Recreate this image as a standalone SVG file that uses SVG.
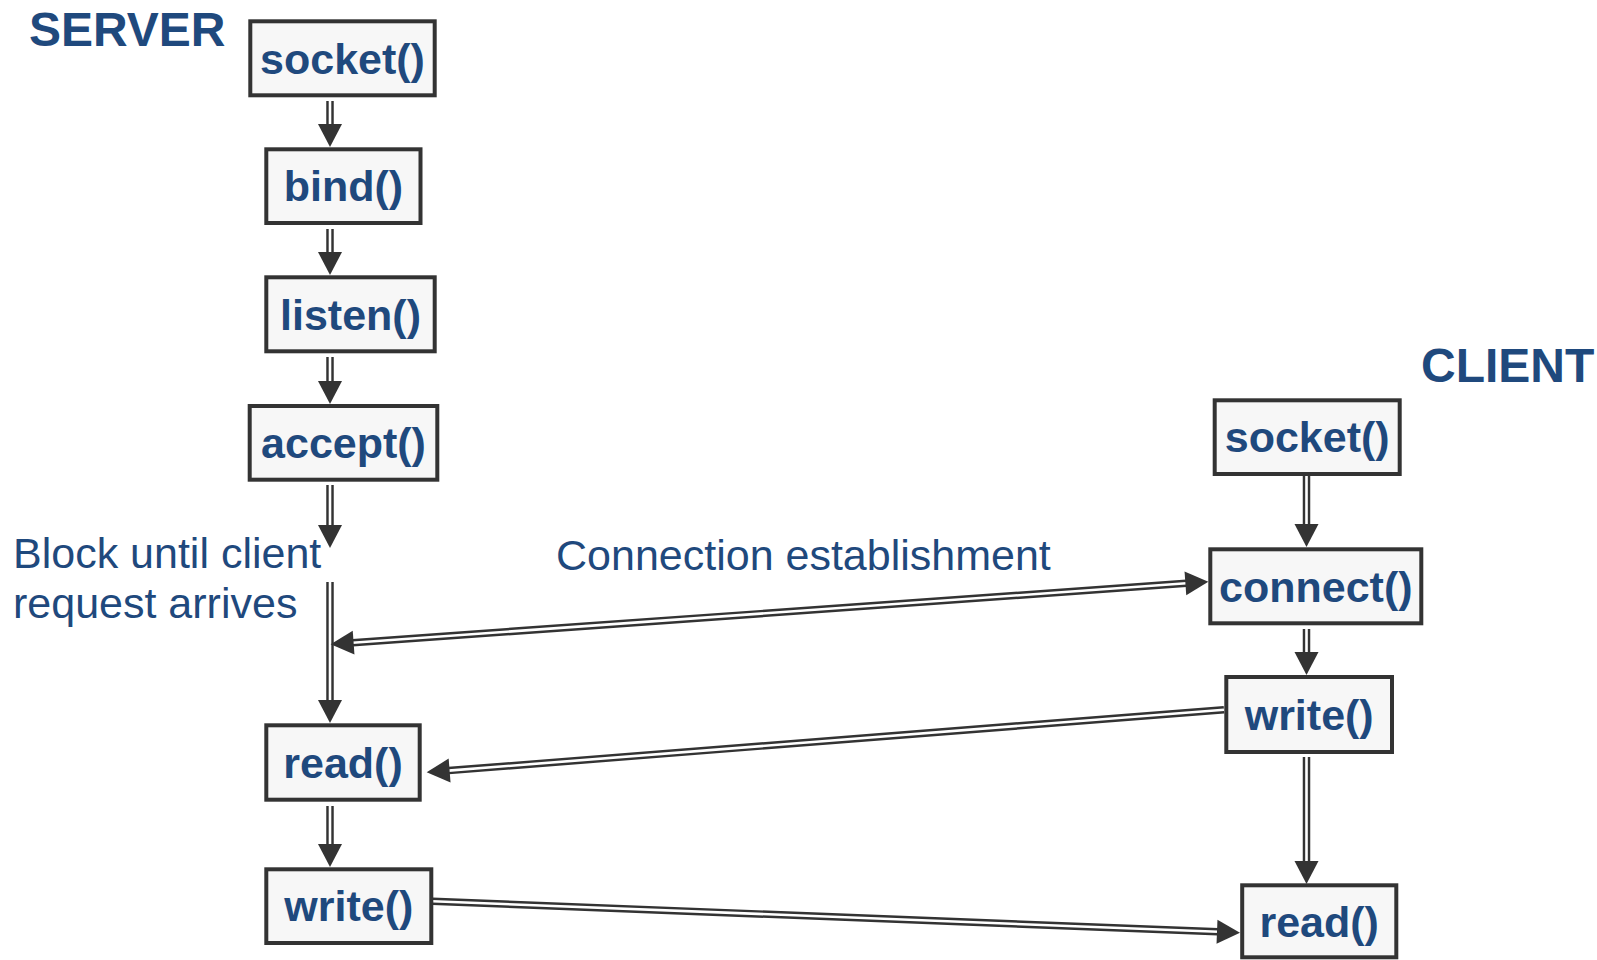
<svg xmlns="http://www.w3.org/2000/svg" width="1597" height="960" viewBox="0 0 1597 960">
<style>
.box{fill:#f7f7f7;stroke:#333;stroke-width:4}
.lbl{font-family:"Liberation Sans",Arial,sans-serif;font-weight:bold;font-size:43px;fill:#1f497d;text-anchor:middle}
.title{font-family:"Liberation Sans",Arial,sans-serif;font-weight:bold;font-size:48px;fill:#1f497d}
.note{font-family:"Liberation Sans",Arial,sans-serif;font-size:43px;fill:#1f497d}
.outer{fill:none;stroke:#333;stroke-width:7.5}
.inner{fill:none;stroke:#fff;stroke-width:2.6}
</style>
<defs>
<marker id="ah" markerUnits="userSpaceOnUse" markerWidth="25" markerHeight="25" refX="1" refY="12" orient="auto-start-reverse" overflow="visible">
<path d="M0,0 L23,12 L0,24 z" fill="#333"/>
</marker>
</defs>
<rect width="1597" height="960" fill="#fff"/>
<text class="title" x="29" y="46">SERVER</text>
<text class="title" x="1421" y="381.7">CLIENT</text>
<text class="note" x="13" y="568">Block until client</text>
<text class="note" x="13" y="618">request arrives</text>
<text class="note" x="556" y="570">Connection establishment</text>

<g id="connectors">
<g><path class="outer" d="M330,101 V125"/><path class="inner" d="M330,101 V125" marker-end="url(#ah)"/></g>
<g><path class="outer" d="M330,229 V253"/><path class="inner" d="M330,229 V253" marker-end="url(#ah)"/></g>
<g><path class="outer" d="M330,357 V382"/><path class="inner" d="M330,357 V382" marker-end="url(#ah)"/></g>
<g><path class="outer" d="M330,485 V526"/><path class="inner" d="M330,485 V526" marker-end="url(#ah)"/></g>
<g><path class="outer" d="M330,582 V701"/><path class="inner" d="M330,582 V701" marker-end="url(#ah)"/></g>
<g><path class="outer" d="M330,806 V845"/><path class="inner" d="M330,806 V845" marker-end="url(#ah)"/></g>
<g><path class="outer" d="M1306.5,472 V525"/><path class="inner" d="M1306.5,472 V525" marker-end="url(#ah)"/></g>
<g><path class="outer" d="M1306.5,629 V653"/><path class="inner" d="M1306.5,629 V653" marker-end="url(#ah)"/></g>
<g><path class="outer" d="M1306.5,757 V862"/><path class="inner" d="M1306.5,757 V862" marker-end="url(#ah)"/></g>
<g><path class="outer" d="M352.6,642.7 L1186.4,583.3"/><path class="inner" d="M352.6,642.7 L1186.4,583.3" marker-start="url(#ah)" marker-end="url(#ah)"/></g>
<g><path class="outer" d="M1224,709.7 L448.6,770.6"/><path class="inner" d="M1224,709.7 L448.6,770.6" marker-end="url(#ah)"/></g>
<g><path class="outer" d="M426,901 L1218,931.8"/><path class="inner" d="M426,901 L1218,931.8" marker-end="url(#ah)"/></g>
</g>

<g id="s_socket"><rect class="box" x="250.3" y="21.3" width="184.4" height="74"/><text class="lbl" x="342.5" y="73.5">socket()</text></g>
<g id="s_bind"><rect class="box" x="266.3" y="149.3" width="154.2" height="73.7"/><text class="lbl" x="343.4" y="201">bind()</text></g>
<g id="s_listen"><rect class="box" x="266.3" y="277.3" width="168.4" height="74"/><text class="lbl" x="350.5" y="329.5">listen()</text></g>
<g id="s_accept"><rect class="box" x="249.7" y="406" width="187.6" height="73.7"/><text class="lbl" x="343.5" y="458">accept()</text></g>
<g id="s_read"><rect class="box" x="266.3" y="725.3" width="153.4" height="74.4"/><text class="lbl" x="343" y="777.5">read()</text></g>
<g id="s_write"><rect class="box" x="266.3" y="869.3" width="165" height="73.7"/><text class="lbl" x="348.8" y="921">write()</text></g>

<g id="c_socket"><rect class="box" x="1214.7" y="400.3" width="185" height="73.7"/><text class="lbl" x="1307.2" y="452">socket()</text></g>
<g id="c_connect"><rect class="box" x="1210.3" y="549.3" width="211" height="74"/><text class="lbl" x="1315.8" y="601.5">connect()</text></g>
<g id="c_write"><rect class="box" x="1226.3" y="677" width="165.7" height="75"/><text class="lbl" x="1309.2" y="729.5">write()</text></g>
<g id="c_read"><rect class="box" x="1242.2" y="885.3" width="154.1" height="72"/><text class="lbl" x="1319.2" y="936.5">read()</text></g>
</svg>
